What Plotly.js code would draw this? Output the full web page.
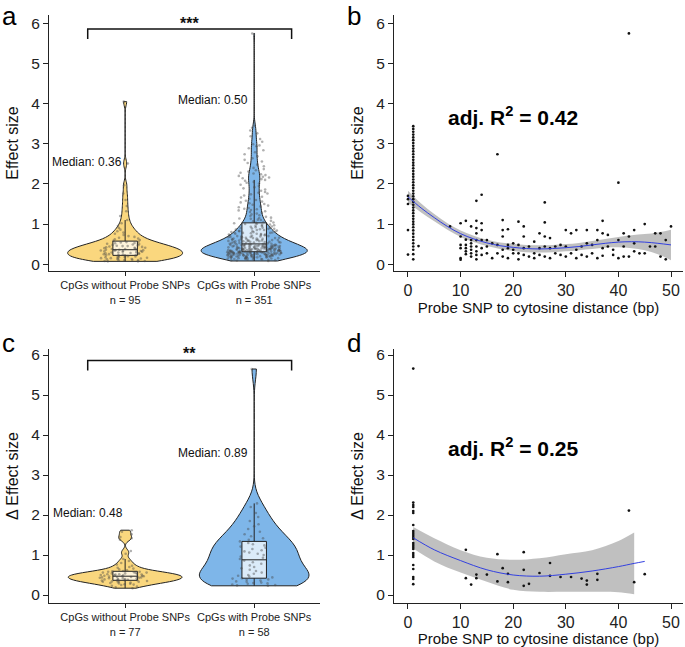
<!DOCTYPE html>
<html><head><meta charset="utf-8">
<script src="https://cdn.plot.ly/plotly-3.0.1.min.js"></script>
<style>html,body{margin:0;padding:0;background:#fff}#chart{width:685px;height:647px}</style>
</head><body><div id="chart"></div>
<script>
// ---------- data ----------
const groupLabelsA = ['CpGs without Probe SNPs<br>n = 95', 'CpGs with Probe SNPs<br>n = 351'];
const groupLabelsC = ['CpGs without Probe SNPs<br>n = 77', 'CpGs with Probe SNPs<br>n = 58'];
const medianLabelsA = ['Median: 0.36', 'Median: 0.50'];
const medianLabelsC = ['Median: 0.48', 'Median: 0.89'];
const panelLetters = ['a', 'b', 'c', 'd'];
const sigA = '***';
const sigC = '**';
const r2TextB = 'adj. R<sup>2</sup> = 0.42';
const r2TextD = 'adj. R<sup>2</sup> = 0.25';

// panel a: effect size, CpGs without probe SNPs
const effectNoSnp = [0.07,0.07,0.08,0.08,0.09,0.10,0.10,0.11,0.12,0.12,0.13,0.14,0.14,0.15,0.15,0.16,0.17,0.17,0.18,0.18,0.19,0.20,0.21,0.22,
 0.22,0.23,0.23,0.24,0.25,0.25,0.26,0.27,0.27,0.28,0.29,0.29,0.30,0.31,0.31,0.32,0.33,0.33,0.34,0.34,0.35,0.35,0.36,
 0.36,
 0.37,0.38,0.38,0.39,0.40,0.41,0.41,0.42,0.43,0.44,0.45,0.45,0.46,0.47,0.48,0.49,0.50,0.51,0.52,0.53,0.54,0.55,0.56,
 0.58,0.60,0.62,0.64,0.66,0.68,0.70,0.73,0.76,0.79,0.82,0.86,0.90,0.95,1.02,1.10,1.20,1.32,1.45,1.60,1.76,1.97,2.51,4.05];
// panel a: effect size, CpGs with probe SNPs
const effectWithSnp = [0.08,0.09,0.10,0.10,0.11,0.11,0.12,0.12,0.13,0.13,0.13,0.14,0.14,0.14,0.15,0.15,0.15,0.16,0.16,0.16,
 0.17,0.17,0.17,0.17,0.18,0.18,0.18,0.18,0.19,0.19,0.19,0.19,0.20,0.20,0.20,0.20,0.21,0.21,0.21,0.21,
 0.22,0.22,0.22,0.22,0.22,0.23,0.23,0.23,0.23,0.23,0.24,0.24,0.24,0.24,0.24,0.25,0.25,0.25,0.25,0.25,
 0.26,0.26,0.26,0.26,0.26,0.27,0.27,0.27,0.27,0.27,0.28,0.28,0.28,0.28,0.28,0.28,0.29,0.29,0.29,0.29,0.29,0.29,
 0.30,0.30,0.30,0.30,0.30,
 0.31,0.31,0.31,0.31,0.31,0.32,0.32,0.32,0.32,0.32,0.33,0.33,0.33,0.33,0.33,0.34,0.34,0.34,0.34,0.34,
 0.35,0.35,0.35,0.35,0.35,0.36,0.36,0.36,0.36,0.36,0.37,0.37,0.37,0.37,0.37,0.38,0.38,0.38,0.38,0.38,
 0.39,0.39,0.39,0.39,0.39,0.40,0.40,0.40,0.40,0.41,0.41,0.41,0.41,0.42,0.42,0.42,0.42,0.43,0.43,0.43,0.43,
 0.44,0.44,0.44,0.44,0.45,0.45,0.45,0.45,0.46,0.46,0.46,0.46,0.47,0.47,0.47,0.47,0.48,0.48,0.48,0.48,
 0.49,0.49,0.49,0.49,0.50,0.50,0.50,
 0.51,0.51,0.52,0.52,0.53,0.53,0.53,0.54,0.54,0.55,0.55,0.55,0.56,0.56,0.57,0.57,0.57,0.58,0.58,0.59,0.59,0.59,0.60,0.60,0.60,
 0.61,0.61,0.62,0.62,0.63,0.63,0.64,0.64,0.65,0.65,0.66,0.66,0.67,0.67,0.68,0.68,0.69,0.69,0.70,0.70,
 0.71,0.72,0.72,0.73,0.74,0.74,0.75,0.76,0.76,0.77,0.78,0.78,0.79,0.79,0.80,0.80,
 0.81,0.82,0.82,0.83,0.84,0.85,0.85,0.86,0.87,0.88,0.88,0.89,0.90,0.90,
 0.91,0.92,0.93,0.94,0.95,0.96,0.97,0.98,0.99,1.00,1.01,1.02,
 1.03,1.04,1.05,1.07,1.08,1.10,1.11,1.13,1.14,1.15,1.16,1.18,1.20,
 1.22,1.24,1.26,1.28,1.30,1.32,1.34,1.35,1.37,1.38,1.40,
 1.42,1.44,1.46,1.48,1.50,1.52,1.54,1.56,1.58,1.60,
 1.63,1.66,1.68,1.71,1.74,1.76,1.78,1.80,
 1.83,1.86,1.89,1.92,1.95,1.98,2.01,2.03,2.05,2.08,2.10,
 2.12,2.14,2.16,2.18,2.20,2.22,2.24,2.26,2.28,2.31,2.34,2.37,2.40,2.44,2.48,2.52,2.56,2.60,
 2.64,2.69,2.74,2.79,2.84,2.89,2.94,2.96,2.99,
 3.05,3.12,3.19,3.26,3.33,3.40,3.45,5.75];

// panel c: delta effect size
const deltaNoSnp = [0.17,0.19,0.21,0.23,0.25,0.26,0.27,0.28,0.29,0.30,0.31,0.32,0.33,0.33,0.34,0.35,0.35,0.36,0.36,
 0.37,0.37,0.38,0.38,0.39,0.40,0.40,0.41,0.42,0.42,0.43,0.43,0.44,0.44,0.45,0.45,0.46,0.46,0.47,0.47,
 0.48,0.48,0.49,0.49,0.50,0.51,0.51,0.52,0.52,0.53,0.54,0.54,0.55,0.56,0.56,0.57,0.58,0.58,0.59,
 0.60,0.62,0.64,0.66,0.68,0.70,0.73,0.76,0.80,0.85,0.90,1.03,1.10,1.38,1.42,1.45,1.52,1.58,1.62];
const deltaWithSnp = [0.23,0.24,0.25,0.26,0.28,0.29,0.30,0.31,0.33,0.34,0.36,0.38,0.39,0.41,
 0.42,0.44,0.46,0.48,0.50,0.53,0.56,0.60,0.63,0.67,0.70,0.74,0.78,0.82,0.86,
 0.90,0.93,0.96,1.00,1.03,1.06,1.09,1.12,1.15,1.18,1.21,1.24,1.27,1.30,1.34,
 1.38,1.42,1.47,1.52,1.58,1.65,1.72,1.77,1.85,1.95,2.05,2.20,2.29,5.65];

// panel b: probe SNP distance vs effect size
const distLevelsB = [0,1,2,8,10,11,12,13,14,15,16,17,18,19,20,21,22,23,24,25,26,27,28,29,30,31,32,33,34,35,36,37,38,39,40,41,42,43,44,45,46,47,48,49,50];
const effectByDistB = [
 [1.70,1.62,1.50,0.85,0.24],
 [3.44,3.37,3.30,3.23,3.16,3.09,3.02,2.95,2.88,2.81,2.74,2.67,2.60,2.53,2.46,2.39,2.32,2.25,2.18,2.11,2.04,1.97,1.90,1.83,1.76,1.69,1.62,1.55,1.48,1.41,1.34,1.27,1.20,1.13,1.06,0.99,0.92,0.84,0.76,0.68,0.60,0.52,0.44,0.36,0.25,0.12],
 [0.45],[0.94],
 [1.02,0.69,0.48,0.40,0.15,0.11],
 [1.08,0.61,0.48,0.40,0.32,0.25],
 [0.94,0.60,0.52,0.44,0.36,0.27,0.19],
 [1.58,1.08,0.90,0.77,0.60,0.44,0.32,0.23,0.12],
 [1.73,1.02,0.85,0.60,0.40,0.23],
 [0.60,0.44,0.27],[0.52,0.15],[2.74,0.48,0.27],
 [1.10,0.85,0.69,0.36,0.19],[0.87,0.48,0.40,0.15],[0.52,0.36,0.27],
 [1.06,0.48,0.27,0.12],[0.94,0.69,0.40,0.23],[0.44,0.19],[0.56,0.27,0.15],
 [0.77,0.40,0.23],[1.54,1.04,0.69,0.44,0.19],[0.65,0.40,0.15],[0.44,0.27],
 [0.48,0.23],[0.85,0.44,0.19],[0.77,0.27],[0.85,0.36,0.15],[0.44,0.23],
 [0.85,0.52,0.19],[0.48,0.27],[0.85,0.60,0.15],[1.08,0.77,0.40,0.21],
 [0.73,0.44],[0.36,0.23],[2.03,0.60,0.15],[0.77,0.44,0.19],[5.75,0.69,0.19],
 [0.85,0.52,0.32],[0.27],[1.00,0.27],[0.44],[0.77,0.44],[0.77,0.19],[0.60,0.12],[0.94]
];
// panel b smooth fit with confidence band
const fitXB = [0,2.5,5,7.5,10,12.5,15,17.5,20,22.5,25,27.5,30,32.5,35,37.5,40,42.5,45,47.5,50];
const fitYB = [1.68,1.40,1.16,0.94,0.76,0.63,0.53,0.46,0.42,0.39,0.38,0.39,0.41,0.44,0.48,0.52,0.55,0.56,0.55,0.52,0.48];
const fitLoB = [1.53,1.29,1.07,0.86,0.68,0.55,0.45,0.38,0.33,0.30,0.29,0.30,0.32,0.35,0.38,0.41,0.42,0.40,0.35,0.25,0.10];
const fitHiB = [1.83,1.51,1.25,1.02,0.84,0.71,0.61,0.54,0.51,0.48,0.47,0.48,0.50,0.53,0.58,0.63,0.68,0.72,0.75,0.79,0.86];

// panel d: probe SNP distance vs delta effect size
const distLevelsD = [1,11,12,13,15,17,18,19,22,23,25,27,29,31,33,34,36,42,43,45];
const deltaByDistD = [
 [5.66,2.31,2.25,2.20,2.10,2.05,1.75,1.60,1.55,1.50,1.45,1.40,1.30,1.25,1.20,1.15,1.05,1.00,0.95,0.75,0.65,0.45,0.40,0.27],
 [1.13,0.42],[0.26],[0.51,0.42],[0.51],[1.02,0.34],[0.67],[0.53,0.32],
 [1.07,0.63,0.23],[0.28],[0.55],[0.80,0.48],[0.45],[0.45],[0.41],[0.36,0.26],
 [0.53,0.38],[2.11],[0.32],[0.52]
];
const fitXD = [1,5,10,15,20,25,30,35,40,43,45];
const fitYD = [1.43,1.13,0.86,0.63,0.50,0.47,0.52,0.60,0.71,0.79,0.84];
const bandXD = [1,5,10,15,20,25,30,35,40,43];
const fitLoD = [1.16,0.84,0.56,0.33,0.13,0.08,0.08,0.08,0.07,0.02];
const fitHiD = [1.70,1.42,1.12,0.93,0.88,0.92,1.02,1.12,1.35,1.56];

// significance brackets
const bracketX = [-0.29,-0.29,1.29,1.29];
const bracketY = [5.61,5.86,5.86,5.61];

// ---------- build ----------
const FONT = 'Liberation Sans, Arial, sans-serif';
const YELLOW = '#FAD77E';
const BLUE = '#7EB6E9';
const flat = (levels, groups, which) => {
  const xs = [], ys = [];
  groups.forEach((g, i) => g.forEach(v => { xs.push(levels[i]); ys.push(v); }));
  return which === 'x' ? xs : ys;
};

function violinSet(vals, pos, color, vwidth, bw, xa, ya) {
  return [
    {type:'violin', y:vals, x0:pos, xaxis:xa, yaxis:ya, width:vwidth, scalemode:'width',
     spanmode:'hard', bandwidth:bw, points:false, fillcolor:color, opacity:1,
     line:{color:'#222', width:1}, box:{visible:false}, meanline:{visible:false}, hoverinfo:'skip', showlegend:false},
    {type:'box', y:vals, x0:pos, xaxis:xa, yaxis:ya, width:0.19, boxpoints:'outliers',
     marker:{size:0, opacity:0}, fillcolor:'rgba(255,255,255,0.72)', whiskerwidth:0,
     line:{color:'#222', width:1}, hoverinfo:'skip', showlegend:false},
    {type:'box', y:vals, x0:pos, xaxis:xa, yaxis:ya, width:0.42, boxpoints:'all', jitter:1, pointpos:0,
     fillcolor:'rgba(0,0,0,0)', line:{color:'rgba(0,0,0,0)', width:0},
     marker:{color:'rgba(70,70,70,0.42)', size:2.6}, hoverinfo:'skip', showlegend:false}
  ];
}

const traces = [];
traces.push(...violinSet(effectNoSnp, 0, YELLOW, 0.89, 0.1, 'x', 'y'));
traces.push(...violinSet(effectWithSnp, 1, BLUE, 0.82, 0.14, 'x', 'y'));
traces.push({type:'scatter', mode:'lines', x:bracketX, y:bracketY, xaxis:'x', yaxis:'y',
  line:{color:'#111', width:1.5}, hoverinfo:'skip', showlegend:false});
traces.push(...violinSet(deltaNoSnp, 0, YELLOW, 0.88, 0.062, 'x3', 'y3'));
traces.push(...violinSet(deltaWithSnp, 1, BLUE, 0.85, 0.275, 'x3', 'y3'));
traces.push({type:'scatter', mode:'lines', x:bracketX, y:bracketY, xaxis:'x3', yaxis:'y3',
  line:{color:'#111', width:1.5}, hoverinfo:'skip', showlegend:false});

// panel b
traces.push({type:'scatter', mode:'lines', x:fitXB, y:fitLoB, xaxis:'x2', yaxis:'y2', line:{width:0, color:'rgba(0,0,0,0)', shape:'spline'}, hoverinfo:'skip', showlegend:false});
traces.push({type:'scatter', mode:'lines', x:fitXB, y:fitHiB, xaxis:'x2', yaxis:'y2', fill:'tonexty', fillcolor:'rgba(150,150,150,0.6)', line:{width:0, color:'rgba(0,0,0,0)', shape:'spline'}, hoverinfo:'skip', showlegend:false});
traces.push({type:'scatter', mode:'markers', x:flat(distLevelsB, effectByDistB, 'x'), y:flat(distLevelsB, effectByDistB, 'y'), xaxis:'x2', yaxis:'y2', marker:{color:'#111', size:2.7}, hoverinfo:'skip', showlegend:false});
traces.push({type:'scatter', mode:'lines', x:fitXB, y:fitYB, xaxis:'x2', yaxis:'y2', line:{color:'#3340E0', width:1, shape:'spline'}, hoverinfo:'skip', showlegend:false});

// panel d
traces.push({type:'scatter', mode:'lines', x:bandXD, y:fitLoD, xaxis:'x4', yaxis:'y4', line:{width:0, color:'rgba(0,0,0,0)', shape:'spline'}, hoverinfo:'skip', showlegend:false});
traces.push({type:'scatter', mode:'lines', x:bandXD, y:fitHiD, xaxis:'x4', yaxis:'y4', fill:'tonexty', fillcolor:'rgba(150,150,150,0.6)', line:{width:0, color:'rgba(0,0,0,0)', shape:'spline'}, hoverinfo:'skip', showlegend:false});
traces.push({type:'scatter', mode:'markers', x:flat(distLevelsD, deltaByDistD, 'x'), y:flat(distLevelsD, deltaByDistD, 'y'), xaxis:'x4', yaxis:'y4', marker:{color:'#111', size:2.7}, hoverinfo:'skip', showlegend:false});
traces.push({type:'scatter', mode:'lines', x:fitXD, y:fitYD, xaxis:'x4', yaxis:'y4', line:{color:'#3340E0', width:1, shape:'spline'}, hoverinfo:'skip', showlegend:false});

const axBase = {showline:true, linecolor:'#222', linewidth:1, ticks:'outside', ticklen:5, tickcolor:'#222', tickwidth:1,
  showgrid:false, zeroline:false, fixedrange:true, automargin:false, tickfont:{family:FONT, size:15.5, color:'#222'}};
const W = 685, H = 647;
const xd = (l, r) => [l / W, r / W];
const yd = (b, t) => [(H - b) / H, (H - t) / H];
const yTicks = [0,1,2,3,4,5,6];
const xTicksB = [0,10,20,30,40,50];
const yTitle = (t) => ({text:t, font:{family:FONT, size:16, color:'#111'}, standoff:8});
const xTitle = {text:'Probe SNP to cytosine distance (bp)', font:{family:FONT, size:15, color:'#111'}, standoff:3};
const catFont = {family:FONT, size:11, color:'#222'};
const numFont = {family:FONT, size:16, color:'#222'};
const letterFont = {family:FONT, size:26, color:'#000'};

const layout = {
  width: W, height: H, margin:{l:0, r:0, t:0, b:0}, paper_bgcolor:'#fff', plot_bgcolor:'rgba(0,0,0,0)',
  font:{family:FONT, color:'#111'}, showlegend:false, violinmode:'overlay', boxmode:'overlay',
  xaxis: Object.assign({}, axBase, {domain:xd(49,320), anchor:'y', range:[-0.59,1.51], tickvals:[0,1], ticktext:groupLabelsA, tickfont:catFont, ticklen:4}),
  yaxis: Object.assign({}, axBase, {domain:yd(271,15), anchor:'x', range:[-0.17,6.21], tickvals:yTicks, title:yTitle('Effect size')}),
  xaxis2: Object.assign({}, axBase, {domain:xd(394,683), anchor:'y2', range:[-2.66,52.28], tickvals:xTicksB, tickfont:numFont, title:xTitle}),
  yaxis2: Object.assign({}, axBase, {domain:yd(271,15), anchor:'x2', range:[-0.17,6.21], tickvals:yTicks, title:yTitle('Effect size')}),
  xaxis3: Object.assign({}, axBase, {domain:xd(49,320), anchor:'y3', range:[-0.59,1.51], tickvals:[0,1], ticktext:groupLabelsC, tickfont:catFont, ticklen:4}),
  yaxis3: Object.assign({}, axBase, {domain:yd(603,349), anchor:'x3', range:[-0.2,6.15], tickvals:yTicks, title:yTitle('Δ Effect size')}),
  xaxis4: Object.assign({}, axBase, {domain:xd(394,683), anchor:'y4', range:[-2.66,52.28], tickvals:xTicksB, tickfont:numFont, title:xTitle}),
  yaxis4: Object.assign({}, axBase, {domain:yd(603,349), anchor:'x4', range:[-0.2,6.15], tickvals:yTicks, title:yTitle('Δ Effect size')}),
  annotations: [
    {xref:'paper', yref:'paper', x:0, y:1-33/H, xanchor:'left', yanchor:'bottom', text:panelLetters[0], showarrow:false, font:letterFont},
    {xref:'paper', yref:'paper', x:345/W, y:1-33/H, xanchor:'left', yanchor:'bottom', text:panelLetters[1], showarrow:false, font:letterFont},
    {xref:'paper', yref:'paper', x:0, y:1-360/H, xanchor:'left', yanchor:'bottom', text:panelLetters[2], showarrow:false, font:letterFont},
    {xref:'paper', yref:'paper', x:345/W, y:1-360/H, xanchor:'left', yanchor:'bottom', text:panelLetters[3], showarrow:false, font:letterFont},
    {xref:'x', yref:'y', x:-0.01, y:2.54, xanchor:'right', yanchor:'middle', text:medianLabelsA[0], showarrow:false, font:{family:FONT, size:12, color:'#111'}},
    {xref:'x', yref:'y', x:0.97, y:4.09, xanchor:'right', yanchor:'middle', text:medianLabelsA[1], showarrow:false, font:{family:FONT, size:12, color:'#111'}},
    {xref:'x3', yref:'y3', x:0.0, y:2.05, xanchor:'right', yanchor:'middle', text:medianLabelsC[0], showarrow:false, font:{family:FONT, size:12, color:'#111'}},
    {xref:'x3', yref:'y3', x:0.97, y:3.55, xanchor:'right', yanchor:'middle', text:medianLabelsC[1], showarrow:false, font:{family:FONT, size:12, color:'#111'}},
    {xref:'x', yref:'y', x:0.5, y:6.0, xanchor:'center', yanchor:'middle', text:'<b>'+sigA+'</b>', showarrow:false, font:{family:FONT, size:16, color:'#111'}},
    {xref:'x3', yref:'y3', x:0.5, y:6.04, xanchor:'center', yanchor:'middle', text:'<b>'+sigC+'</b>', showarrow:false, font:{family:FONT, size:16, color:'#111'}},
    {xref:'x2', yref:'y2', x:20, y:3.7, xanchor:'center', yanchor:'middle', text:'<b>'+r2TextB+'</b>', showarrow:false, font:{family:FONT, size:21, color:'#000'}},
    {xref:'x4', yref:'y4', x:20, y:3.7, xanchor:'center', yanchor:'middle', text:'<b>'+r2TextD+'</b>', showarrow:false, font:{family:FONT, size:21, color:'#000'}}
  ]
};

Plotly.newPlot('chart', traces, layout, {staticPlot:true, displayModeBar:false});
</script>
</body></html>
